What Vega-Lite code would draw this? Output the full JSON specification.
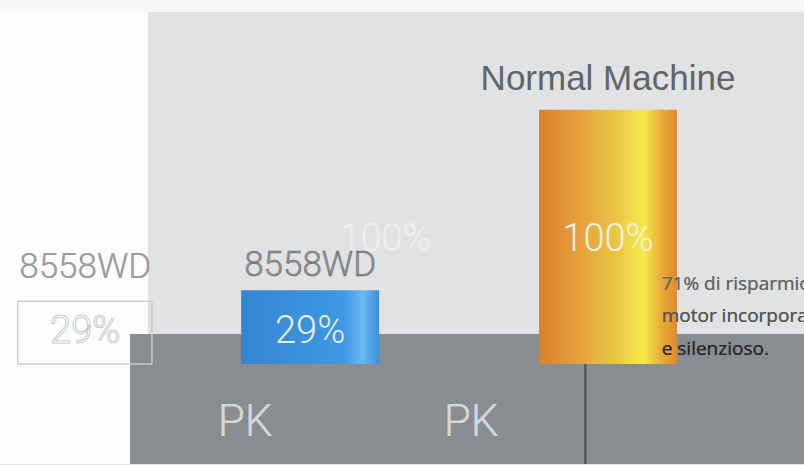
{
  "$schema": "https://vega.github.io/schema/vega-lite/v6.json",
  "width": 804,
  "height": 465,
  "autosize": {"type": "fit", "contains": "padding"},
  "padding": 0,
  "background": "#e1e2e4",
  "view": {"stroke": null},
  "datasets": {
    "bars": [
      {"machine": "8558WD", "consumption": 29, "label": "29%"},
      {"machine": "Normal Machine", "consumption": 100, "label": "100%"}
    ]
  },
  "data": {"name": "bars"},
  "resolve": {"scale": {"x": "independent"}},
  "layer": [
    {
      "mark": {"type": "rect", "color": "#fcfcfc"},
      "encoding": {
        "x": {"datum": 0, "type": "quantitative", "scale": {"domain": [0, 100]}, "axis": null},
        "x2": {"datum": 18.4},
        "y": {"datum": 143.2, "type": "quantitative", "scale": {"domain": [-39.3, 143.2], "nice": false, "zero": false}, "axis": null},
        "y2": {"datum": -39.3}
      }
    },
    {
      "mark": {"type": "rect", "color": "#f7f7f8"},
      "encoding": {
        "x": {"datum": 0, "type": "quantitative", "scale": {"domain": [0, 100]}, "axis": null},
        "x2": {"datum": 100},
        "y": {"datum": 143.2, "type": "quantitative", "axis": null},
        "y2": {"datum": 138.6}
      }
    },
    {
      "mark": {"type": "rect", "color": "#898c90"},
      "encoding": {
        "x": {"datum": 16.2, "type": "quantitative", "scale": {"domain": [0, 100]}, "axis": null},
        "x2": {"datum": 100},
        "y": {"datum": 11.8, "type": "quantitative", "axis": null},
        "y2": {"datum": -39.3}
      }
    },
    {
      "mark": {"type": "rule", "color": "#55585b", "strokeWidth": 2},
      "encoding": {
        "x": {"datum": 72.8, "type": "quantitative", "scale": {"domain": [0, 100]}, "axis": null},
        "y": {"datum": 11.8, "type": "quantitative", "axis": null},
        "y2": {"datum": -39.3}
      }
    },
    {
      "mark": {"type": "rect", "fill": null, "stroke": "#c9cacc", "strokeWidth": 1},
      "encoding": {
        "x": {"datum": 2.2, "type": "quantitative", "scale": {"domain": [0, 100]}, "axis": null},
        "x2": {"datum": 18.9},
        "y": {"datum": 24.7, "type": "quantitative", "axis": null},
        "y2": {"datum": 0}
      }
    },
    {
      "mark": {"type": "text", "font": "Roboto", "fontWeight": 300, "fontSize": 35, "color": "#9d9d9d", "align": "center", "baseline": "alphabetic"},
      "encoding": {
        "x": {"datum": 10.6, "type": "quantitative", "scale": {"domain": [0, 100]}, "axis": null},
        "y": {"datum": 34, "type": "quantitative", "axis": null},
        "text": {"value": "8558WD"}
      }
    },
    {
      "mark": {"type": "text", "font": "Roboto", "fontWeight": 300, "fontSize": 38, "color": "#ffffff", "stroke": "#b8b8b8", "strokeWidth": 0.6, "align": "center", "baseline": "middle"},
      "encoding": {
        "x": {"datum": 10.6, "type": "quantitative", "scale": {"domain": [0, 100]}, "axis": null},
        "y": {"datum": 12.5, "type": "quantitative", "axis": null},
        "text": {"value": "29%"}
      }
    },
    {
      "mark": {"type": "text", "font": "Roboto", "fontWeight": 300, "fontSize": 38, "color": "#eeeeee", "align": "center", "baseline": "middle"},
      "encoding": {
        "x": {"datum": 47.9, "type": "quantitative", "scale": {"domain": [0, 100]}, "axis": null},
        "y": {"datum": 49, "type": "quantitative", "axis": null},
        "text": {"value": "100%"}
      }
    },
    {
      "mark": {"type": "text", "font": "Roboto", "fontWeight": 300, "fontSize": 44, "color": "#d4d6d8", "align": "center", "baseline": "middle"},
      "encoding": {
        "x": {"datum": 30.5, "type": "quantitative", "scale": {"domain": [0, 100]}, "axis": null},
        "y": {"datum": -23, "type": "quantitative", "axis": null},
        "text": {"value": "PK"}
      }
    },
    {
      "mark": {"type": "text", "font": "Roboto", "fontWeight": 300, "fontSize": 44, "color": "#d4d6d8", "align": "center", "baseline": "middle"},
      "encoding": {
        "x": {"datum": 58.6, "type": "quantitative", "scale": {"domain": [0, 100]}, "axis": null},
        "y": {"datum": -23, "type": "quantitative", "axis": null},
        "text": {"value": "PK"}
      }
    },
    {
      "transform": [{"filter": "datum.machine === '8558WD'"}],
      "mark": {"type": "bar", "color": {"gradient": "linear", "x1": 0, "x2": 1, "y1": 0, "y2": 0, "stops": [{"offset": 0, "color": "#3585d2"}, {"offset": 0.75, "color": "#3f98e2"}, {"offset": 0.88, "color": "#6ab8f0"}, {"offset": 1, "color": "#3a8fd9"}]}},
      "encoding": {
        "x": {"field": "machine", "type": "nominal", "sort": null, "scale": {"type": "band", "domain": ["8558WD", "Normal Machine"], "paddingInner": 0.537, "paddingOuter": 0.618, "align": 0.655}, "axis": null},
        "y": {"field": "consumption", "type": "quantitative", "axis": null}
      }
    },
    {
      "transform": [{"filter": "datum.machine === 'Normal Machine'"}],
      "mark": {"type": "bar", "color": {"gradient": "linear", "x1": 0, "x2": 1, "y1": 0, "y2": 0, "stops": [{"offset": 0, "color": "#db7f2a"}, {"offset": 0.3, "color": "#e5a13c"}, {"offset": 0.55, "color": "#eac545"}, {"offset": 0.76, "color": "#f6ea4c"}, {"offset": 0.88, "color": "#e8ae38"}, {"offset": 1, "color": "#de8a2c"}]}},
      "encoding": {
        "x": {"field": "machine", "type": "nominal", "sort": null, "scale": {"type": "band", "domain": ["8558WD", "Normal Machine"], "paddingInner": 0.537, "paddingOuter": 0.618, "align": 0.655}, "axis": null},
        "y": {"field": "consumption", "type": "quantitative", "axis": null}
      }
    },
    {
      "mark": {"type": "text", "font": "Open Sans", "fontSize": 19, "color": "#666666", "align": "left", "baseline": "middle", "clip": true},
      "encoding": {
        "x": {"datum": 82.3, "type": "quantitative", "scale": {"domain": [0, 100]}, "axis": null},
        "y": {"datum": 31.4, "type": "quantitative", "axis": null},
        "text": {"value": "71% di risparmio"}
      }
    },
    {
      "mark": {"type": "text", "font": "Open Sans", "fontSize": 19, "color": "#555555", "align": "left", "baseline": "middle", "clip": true},
      "encoding": {
        "x": {"datum": 82.3, "type": "quantitative", "scale": {"domain": [0, 100]}, "axis": null},
        "y": {"datum": 18.8, "type": "quantitative", "axis": null},
        "text": {"value": "motor incorporato"}
      }
    },
    {
      "mark": {"type": "text", "font": "Open Sans", "fontSize": 19, "color": "#2a2a2a", "align": "left", "baseline": "middle", "clip": true},
      "encoding": {
        "x": {"datum": 82.3, "type": "quantitative", "scale": {"domain": [0, 100]}, "axis": null},
        "y": {"datum": 5.9, "type": "quantitative", "axis": null},
        "text": {"value": "e silenzioso."}
      }
    },
    {
      "transform": [{"filter": "datum.machine === '8558WD'"}],
      "mark": {"type": "text", "font": "Roboto", "fontWeight": 300, "fontSize": 35, "color": "#8e8e8e", "stroke": "#6e6e6e", "strokeWidth": 0.5, "align": "center", "baseline": "alphabetic", "dy": -14},
      "encoding": {
        "x": {"field": "machine", "type": "nominal", "sort": null, "scale": {"type": "band", "domain": ["8558WD", "Normal Machine"], "paddingInner": 0.537, "paddingOuter": 0.618, "align": 0.655}, "axis": null},
        "y": {"field": "consumption", "type": "quantitative", "axis": null},
        "text": {"field": "machine"}
      }
    },
    {
      "transform": [{"filter": "datum.machine === 'Normal Machine'"}],
      "mark": {"type": "text", "font": "Liberation Sans", "fontSize": 35, "color": "#5f6569", "align": "center", "baseline": "alphabetic", "dy": -20},
      "encoding": {
        "x": {"field": "machine", "type": "nominal", "sort": null, "scale": {"type": "band", "domain": ["8558WD", "Normal Machine"], "paddingInner": 0.537, "paddingOuter": 0.618, "align": 0.655}, "axis": null},
        "y": {"field": "consumption", "type": "quantitative", "axis": null},
        "text": {"field": "machine"}
      }
    },
    {
      "transform": [{"filter": "datum.machine === '8558WD'"}],
      "mark": {"type": "text", "font": "Roboto", "fontWeight": 300, "fontSize": 38, "color": "#e6eef6", "align": "center", "baseline": "middle", "dy": 42},
      "encoding": {
        "x": {"field": "machine", "type": "nominal", "sort": null, "scale": {"type": "band", "domain": ["8558WD", "Normal Machine"], "paddingInner": 0.537, "paddingOuter": 0.618, "align": 0.655}, "axis": null},
        "y": {"field": "consumption", "type": "quantitative", "axis": null},
        "text": {"field": "label"}
      }
    },
    {
      "transform": [{"filter": "datum.machine === 'Normal Machine'"}],
      "mark": {"type": "text", "font": "Roboto", "fontWeight": 300, "fontSize": 38, "color": "#eef0e6", "align": "center", "baseline": "middle", "dy": 130},
      "encoding": {
        "x": {"field": "machine", "type": "nominal", "sort": null, "scale": {"type": "band", "domain": ["8558WD", "Normal Machine"], "paddingInner": 0.537, "paddingOuter": 0.618, "align": 0.655}, "axis": null},
        "y": {"field": "consumption", "type": "quantitative", "axis": null},
        "text": {"field": "label"}
      }
    }
  ]
}
